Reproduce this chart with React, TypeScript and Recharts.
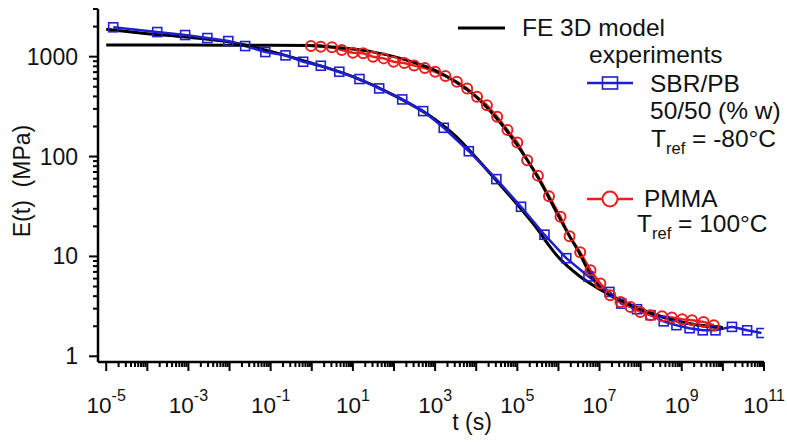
import { Line, LineChart, XAxis, YAxis } from 'recharts';

// exponents of t (log10 s) and moduli E (MPa)
const sbrLogT = [
  -4.83, -3.76, -3.08, -2.54, -2.03, -1.62, -1.13, -0.64, -0.21, 0.22, 0.67, 1.16, 1.64, 2.2,
  2.71, 3.21, 3.82, 4.49, 5.09, 5.66, 6.19, 6.73, 7.24, 7.53, 7.91, 8.24, 8.56, 8.87, 9.19,
  9.51, 9.82, 10.22, 10.59, 10.94,
];
const sbrE = [
  1967, 1763, 1646, 1536, 1433, 1277, 1112, 1030, 889, 811, 706, 597, 481, 373, 285, 194, 113,
  59.4, 31.4, 16.5, 9.6, 6.3, 4.41, 3.37, 2.96, 2.58, 2.24, 2.05, 1.91, 1.82, 1.82, 1.97, 1.82,
  1.71,
];

const pmmaLogT = [
  -0.02, 0.22, 0.49, 0.73, 1.0, 1.25, 1.49, 1.75, 1.99, 2.25, 2.49, 2.75, 3.0, 3.25, 3.53, 3.78,
  4.02, 4.26, 4.51, 4.76, 5.0, 5.24, 5.5, 5.77, 6.05, 6.27, 6.53, 6.78, 7.02, 7.26, 7.51, 7.75,
  7.99, 8.24, 8.52, 8.76, 9.01, 9.25, 9.53, 9.78,
];
const pmmaE = [
  1277, 1256, 1239, 1164, 1094, 1079, 998, 961, 889, 863, 815, 769, 706, 640, 561, 481, 396, 327,
  250, 184, 138, 92, 64.4, 40.1, 24.9, 15.9, 11.0, 7.28, 5.36, 4.08, 3.5, 3.12, 2.78, 2.58, 2.52,
  2.45, 2.35, 2.29, 2.21, 2.05,
];

const feSbrLogT = [-5, -4, -3, -2, -1, 0, 1, 2, 3, 3.5, 4, 4.5, 5, 5.5, 5.75, 6, 6.25, 6.5, 7, 7.5, 8, 8.5, 9, 9.5, 10];
const feSbrE = [1880, 1700, 1560, 1400, 1130, 860, 630, 410, 235, 160, 97, 57, 33, 18.5, 13.2, 9.8, 7.8, 6.4, 4.7, 3.65, 2.95, 2.5, 2.2, 2.03, 1.93];

const fePmmaLogT = [-5, -3, -1, 0, 0.5, 1, 1.5, 2, 2.5, 3, 3.5, 4, 4.5, 5, 5.5, 6, 6.25, 6.5, 6.75, 7, 7.5, 8, 8.5, 9, 9.5, 10];
const fePmmaE = [1305, 1305, 1300, 1290, 1250, 1190, 1110, 1000, 870, 730, 560, 395, 240, 130, 62, 25.5, 16.5, 11, 6.9, 4.9, 3.65, 2.95, 2.5, 2.2, 2.02, 1.92];

const xDecades = [-5, -4, -3, -2, -1, 0, 1, 2, 3, 4, 5, 6, 7, 8, 9, 10];
const xLabelExps = [-5, -3, -1, 1, 3, 5, 7, 9, 11];
const yDecades = [0, 1, 2];
const yLabels = [1, 10, 100, 1000];
const mantissas = [1, 2, 3, 4, 5, 6, 7, 8, 9];

const toPoints = (logT: number[], e: number[]) => logT.map((lt, i) => ({ t: 10 ** lt, E: e[i] }));

const sbr = toPoints(sbrLogT, sbrE);
const pmma = toPoints(pmmaLogT, pmmaE);
const feSbr = toPoints(feSbrLogT, feSbrE);
const fePmma = toPoints(fePmmaLogT, fePmmaE);

const xTicks = [...xDecades.flatMap((d) => mantissas.map((m) => m * 10 ** d)), 1e11];
const yTicks = [...yDecades.flatMap((d) => mantissas.map((m) => m * 10 ** d)), 1000, 2000, 3000];

const BLUE = '#1f1fd2';
const RED = '#e8201e';

const isMajor = (v: number) => {
  const lg = Math.log10(v);
  return Math.abs(lg - Math.round(lg)) < 1e-6;
};

function XTick({ x, y, payload }: any) {
  const v = payload.value;
  const major = isMajor(v);
  const exp = Math.round(Math.log10(v));
  return (
    <g>
      <line x1={x} x2={x} y1={y} y2={y + (major ? 9 : 5)} stroke="#000" strokeWidth={2} />
      {major && xLabelExps.includes(exp) && (
        <text x={x} y={y + 51} textAnchor="middle" fontSize={22.5} fill="#111">
          10
          <tspan dy={-12} fontSize={16}>
            {exp}
          </tspan>
        </text>
      )}
    </g>
  );
}

function YTick({ x, y, payload }: any) {
  const v = payload.value;
  const major = isMajor(v);
  return (
    <g>
      <line x1={x - (major ? 9 : 5)} x2={x} y1={y} y2={y} stroke="#000" strokeWidth={2} />
      {major && yLabels.includes(v) && (
        <text x={x - 20} y={y} dy={8} textAnchor="end" fontSize={23} fill="#111">
          {v}
        </text>
      )}
    </g>
  );
}

const square = (props: any) => {
  const { cx, cy, index } = props;
  return (
    <rect key={`s${index}`} x={cx - 4.5} y={cy - 4.5} width={9} height={9} fill="none" stroke={BLUE} strokeWidth={1.6} />
  );
};

const circle = (props: any) => {
  const { cx, cy, index } = props;
  return <circle key={`c${index}`} cx={cx} cy={cy} r={5} fill="none" stroke={RED} strokeWidth={2} />;
};

export default function App() {
  return (
    <div
      style={{
        position: 'absolute',
        left: 0,
        top: 0,
        width: 787,
        height: 443,
        background: '#fff',
        fontFamily: '"Liberation Sans", Arial, sans-serif',
      }}
    >
      <LineChart width={787} height={443} margin={{ top: 9, right: 23, left: 38, bottom: 21 }}>
        <XAxis
          dataKey="t"
          type="number"
          scale="log"
          domain={[10 ** -5.2, 1e11]}
          allowDataOverflow
          ticks={xTicks}
          interval={0}
          tick={XTick}
          tickLine={false}
          tickSize={0}
          tickMargin={0}
          height={60}
          axisLine={{ stroke: '#000', strokeWidth: 2.5 }}
        />
        <YAxis
          type="number"
          scale="log"
          domain={[0.877, 3000]}
          allowDataOverflow
          ticks={yTicks}
          interval={0}
          tick={YTick}
          tickLine={false}
          tickSize={0}
          tickMargin={0}
          width={60}
          axisLine={{ stroke: '#000', strokeWidth: 2.5 }}
        />
        <Line data={feSbr} dataKey="E" type="monotone" stroke="#000" strokeWidth={3} dot={false} activeDot={false} isAnimationActive={false} />
        <Line data={sbr} dataKey="E" type="linear" stroke={BLUE} strokeWidth={2.5} dot={square} activeDot={false} isAnimationActive={false} />
        <Line data={pmma} dataKey="E" type="linear" stroke={RED} strokeWidth={2.5} dot={circle} activeDot={false} isAnimationActive={false} />
        <Line data={fePmma} dataKey="E" type="monotone" stroke="#000" strokeWidth={3} dot={false} activeDot={false} isAnimationActive={false} />
      </LineChart>
      <svg width={787} height={443} style={{ position: 'absolute', left: 0, top: 0, pointerEvents: 'none' }}>
        <g fill="#111" fontSize={24.5}>
          <text x={22} y={181} dy={8} textAnchor="middle" fontSize={23} transform="rotate(-90 22 181)">
            E(t)&#160;&#160;(MPa)
          </text>
          <text x={472} y={430} textAnchor="middle" fontSize={23}>
            t (s)
          </text>

          <line x1={458} x2={505} y1={28} y2={28} stroke="#000" strokeWidth={3} />
          <text x={522} y={36}>FE 3D model</text>
          <text x={589} y={63}>experiments</text>

          <line x1={587} x2={633} y1={83} y2={83} stroke={BLUE} strokeWidth={2.5} />
          <rect x={602.5} y={77} width={15} height={12} fill="none" stroke={BLUE} strokeWidth={1.6} />
          <text x={650} y={92}>SBR/PB</text>
          <text x={650} y={119}>50/50 (% w)</text>
          <text x={651} y={147}>
            T<tspan dy={7} fontSize={16.5}>ref</tspan>
            <tspan dy={-7}> = -80°C</tspan>
          </text>

          <line x1={587} x2={633} y1={199} y2={199} stroke={RED} strokeWidth={2.5} />
          <circle cx={610} cy={199} r={7.5} fill="#fff" stroke={RED} strokeWidth={2} />
          <text x={644} y={207}>PMMA</text>
          <text x={637} y={232}>
            T<tspan dy={7} fontSize={16.5}>ref</tspan>
            <tspan dy={-7}> = 100°C</tspan>
          </text>
        </g>
      </svg>
    </div>
  );
}
